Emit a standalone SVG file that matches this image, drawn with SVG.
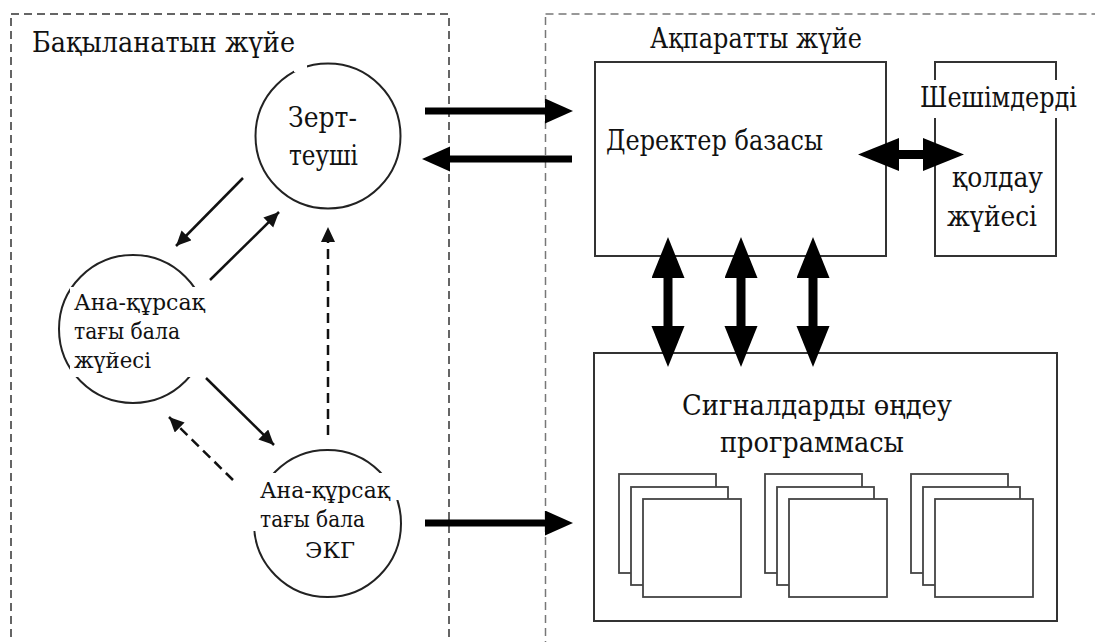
<svg xmlns="http://www.w3.org/2000/svg" width="1095" height="642" viewBox="0 0 1095 642">
<style>
  .t { font-family: "DejaVu Serif", serif; fill: #111; }
  .big { font-size: 28px; }
  .mid { font-size: 23px; }
  .zone { fill: none; stroke-width: 1.5; stroke-dasharray: 8 5; }
  .box { fill: #fff; stroke: #333; stroke-width: 2; }
  .circ { fill: #fff; stroke: #222; stroke-width: 2; }
  .sq { fill: #fff; stroke: #444; stroke-width: 1.8; }
  .mask { fill: #fff; stroke: none; }
  .thin { stroke: #111; stroke-width: 2.5; fill: none; marker-end: url(#ah); }
  .dash { stroke-dasharray: 10 6; }
  .thick { stroke: #000; stroke-width: 7; fill: none; marker-end: url(#th); }
  .dbl { stroke: #000; stroke-width: 9; fill: none; marker-start: url(#bh); marker-end: url(#bh); }
</style>
<defs>
  <marker id="ah" markerUnits="userSpaceOnUse" markerWidth="16" markerHeight="16" refX="15" refY="7" orient="auto">
    <path d="M0,0 L15,7 L0,14 Z" fill="#111"/>
  </marker>
  <marker id="th" markerUnits="userSpaceOnUse" markerWidth="30" markerHeight="26" refX="0" refY="12.5" orient="auto">
    <path d="M0,0 L28,12.5 L0,25 Z" fill="#000"/>
  </marker>
  <marker id="bh" markerUnits="userSpaceOnUse" markerWidth="42" markerHeight="34" refX="0" refY="16.5" orient="auto-start-reverse">
    <path d="M0,0 L41,16.5 L0,33 Z" fill="#000"/>
  </marker>
</defs>
<rect width="1095" height="642" fill="#fff"/>

<g id="zone-observed">
  <rect class="zone" x="11" y="14" width="438" height="660" stroke="#333"/>
  <text class="t big" font-family="DejaVu Serif, serif" x="32" y="52" textLength="263" lengthAdjust="spacingAndGlyphs">Бақыланатын жүйе</text>
</g>
<g id="zone-info">
  <rect class="zone" x="545.5" y="14" width="600" height="660" stroke="#777"/>
  <text class="t big" font-family="DejaVu Serif, serif" x="650" y="48" textLength="212" lengthAdjust="spacingAndGlyphs">Ақпаратты жүйе</text>
</g>

<g id="node-researcher" font-family="DejaVu Serif, serif">
  <circle class="circ" cx="328" cy="136" r="72.5"/>
  <rect class="mask" x="294" y="60" width="13" height="12"/>
  <text class="t big" x="288" y="127" textLength="69" lengthAdjust="spacingAndGlyphs">Зерт-</text>
  <text class="t big" x="289" y="165" textLength="69" lengthAdjust="spacingAndGlyphs">теуші</text>
</g>

<g id="node-mother-system" font-family="DejaVu Serif, serif">
  <circle class="circ" cx="133" cy="329" r="74"/>
  <rect class="mask" x="70" y="287" width="142" height="90"/>
  <text class="t mid" x="74" y="310" textLength="131" lengthAdjust="spacingAndGlyphs">Ана-құрсақ</text>
  <text class="t mid" x="74" y="339" textLength="106" lengthAdjust="spacingAndGlyphs">тағы бала</text>
  <text class="t mid" x="74" y="368" textLength="77" lengthAdjust="spacingAndGlyphs">жүйесі</text>
</g>

<g id="node-ecg" font-family="DejaVu Serif, serif">
  <circle class="circ" cx="327.5" cy="523.5" r="73.5"/>
  <rect class="mask" x="250" y="473" width="150" height="27"/>
  <rect class="mask" x="250" y="500" width="130" height="31"/>
  <text class="t mid" x="260" y="498" textLength="130" lengthAdjust="spacingAndGlyphs">Ана-құрсақ</text>
  <text class="t mid" x="260" y="527" textLength="105" lengthAdjust="spacingAndGlyphs">тағы бала</text>
  <text class="t mid" x="305" y="558" textLength="50" lengthAdjust="spacingAndGlyphs">ЭКГ</text>
</g>

<g id="node-database" font-family="DejaVu Serif, serif">
  <rect class="box" x="595" y="62" width="291" height="194"/>
  <text class="t big" x="606" y="150" textLength="217" lengthAdjust="spacingAndGlyphs">Деректер базасы</text>
</g>

<g id="node-dss" font-family="DejaVu Serif, serif">
  <rect class="box" x="935" y="62" width="121" height="194"/>
  <rect class="mask" x="915" y="80" width="170" height="38"/>
  <text class="t big" x="920" y="107" textLength="157" lengthAdjust="spacingAndGlyphs">Шешімдерді</text>
  <text class="t big" x="952" y="187" textLength="91" lengthAdjust="spacingAndGlyphs">қолдау</text>
  <text class="t big" x="947" y="226" textLength="90" lengthAdjust="spacingAndGlyphs">жүйесі</text>
</g>

<g id="node-signal" font-family="DejaVu Serif, serif">
  <rect class="box" x="594" y="353" width="463" height="268"/>
  <text class="t big" x="682" y="415" textLength="270" lengthAdjust="spacingAndGlyphs">Сигналдарды өңдеу</text>
  <text class="t big" x="720" y="452" textLength="184" lengthAdjust="spacingAndGlyphs">программасы</text>
  <g id="stack-1">
    <rect class="sq" x="619" y="474" width="97" height="99"/>
    <rect class="sq" x="631" y="487" width="97" height="98"/>
    <rect class="sq" x="643" y="499" width="98" height="98"/>
  </g>
  <g id="stack-2">
    <rect class="sq" x="765" y="474" width="97" height="99"/>
    <rect class="sq" x="777" y="487" width="97" height="98"/>
    <rect class="sq" x="789" y="499" width="98" height="98"/>
  </g>
  <g id="stack-3">
    <rect class="sq" x="911" y="474" width="97" height="99"/>
    <rect class="sq" x="923" y="487" width="97" height="98"/>
    <rect class="sq" x="935" y="499" width="98" height="98"/>
  </g>
</g>

<g id="connectors">
  <line class="thin" x1="243" y1="178" x2="176" y2="246"/>
  <line class="thin" x1="210" y1="280" x2="279" y2="212"/>
  <line class="thin" x1="206" y1="378" x2="274" y2="445"/>
  <line class="thin dash" x1="233" y1="480" x2="169" y2="417"/>
  <line class="thin dash" x1="328" y1="435" x2="328" y2="227"/>
  <line class="thick" x1="425" y1="111" x2="545" y2="111"/>
  <line class="thick" x1="572" y1="159" x2="450" y2="159"/>
  <line class="thick" x1="425" y1="523" x2="545" y2="523"/>
  <line class="dbl" x1="899" y1="154.5" x2="923" y2="154.5"/>
  <line class="dbl" x1="668" y1="278" x2="668" y2="326"/>
  <line class="dbl" x1="741" y1="278" x2="741" y2="326"/>
  <line class="dbl" x1="813" y1="278" x2="813" y2="326"/>
</g>
</svg>
